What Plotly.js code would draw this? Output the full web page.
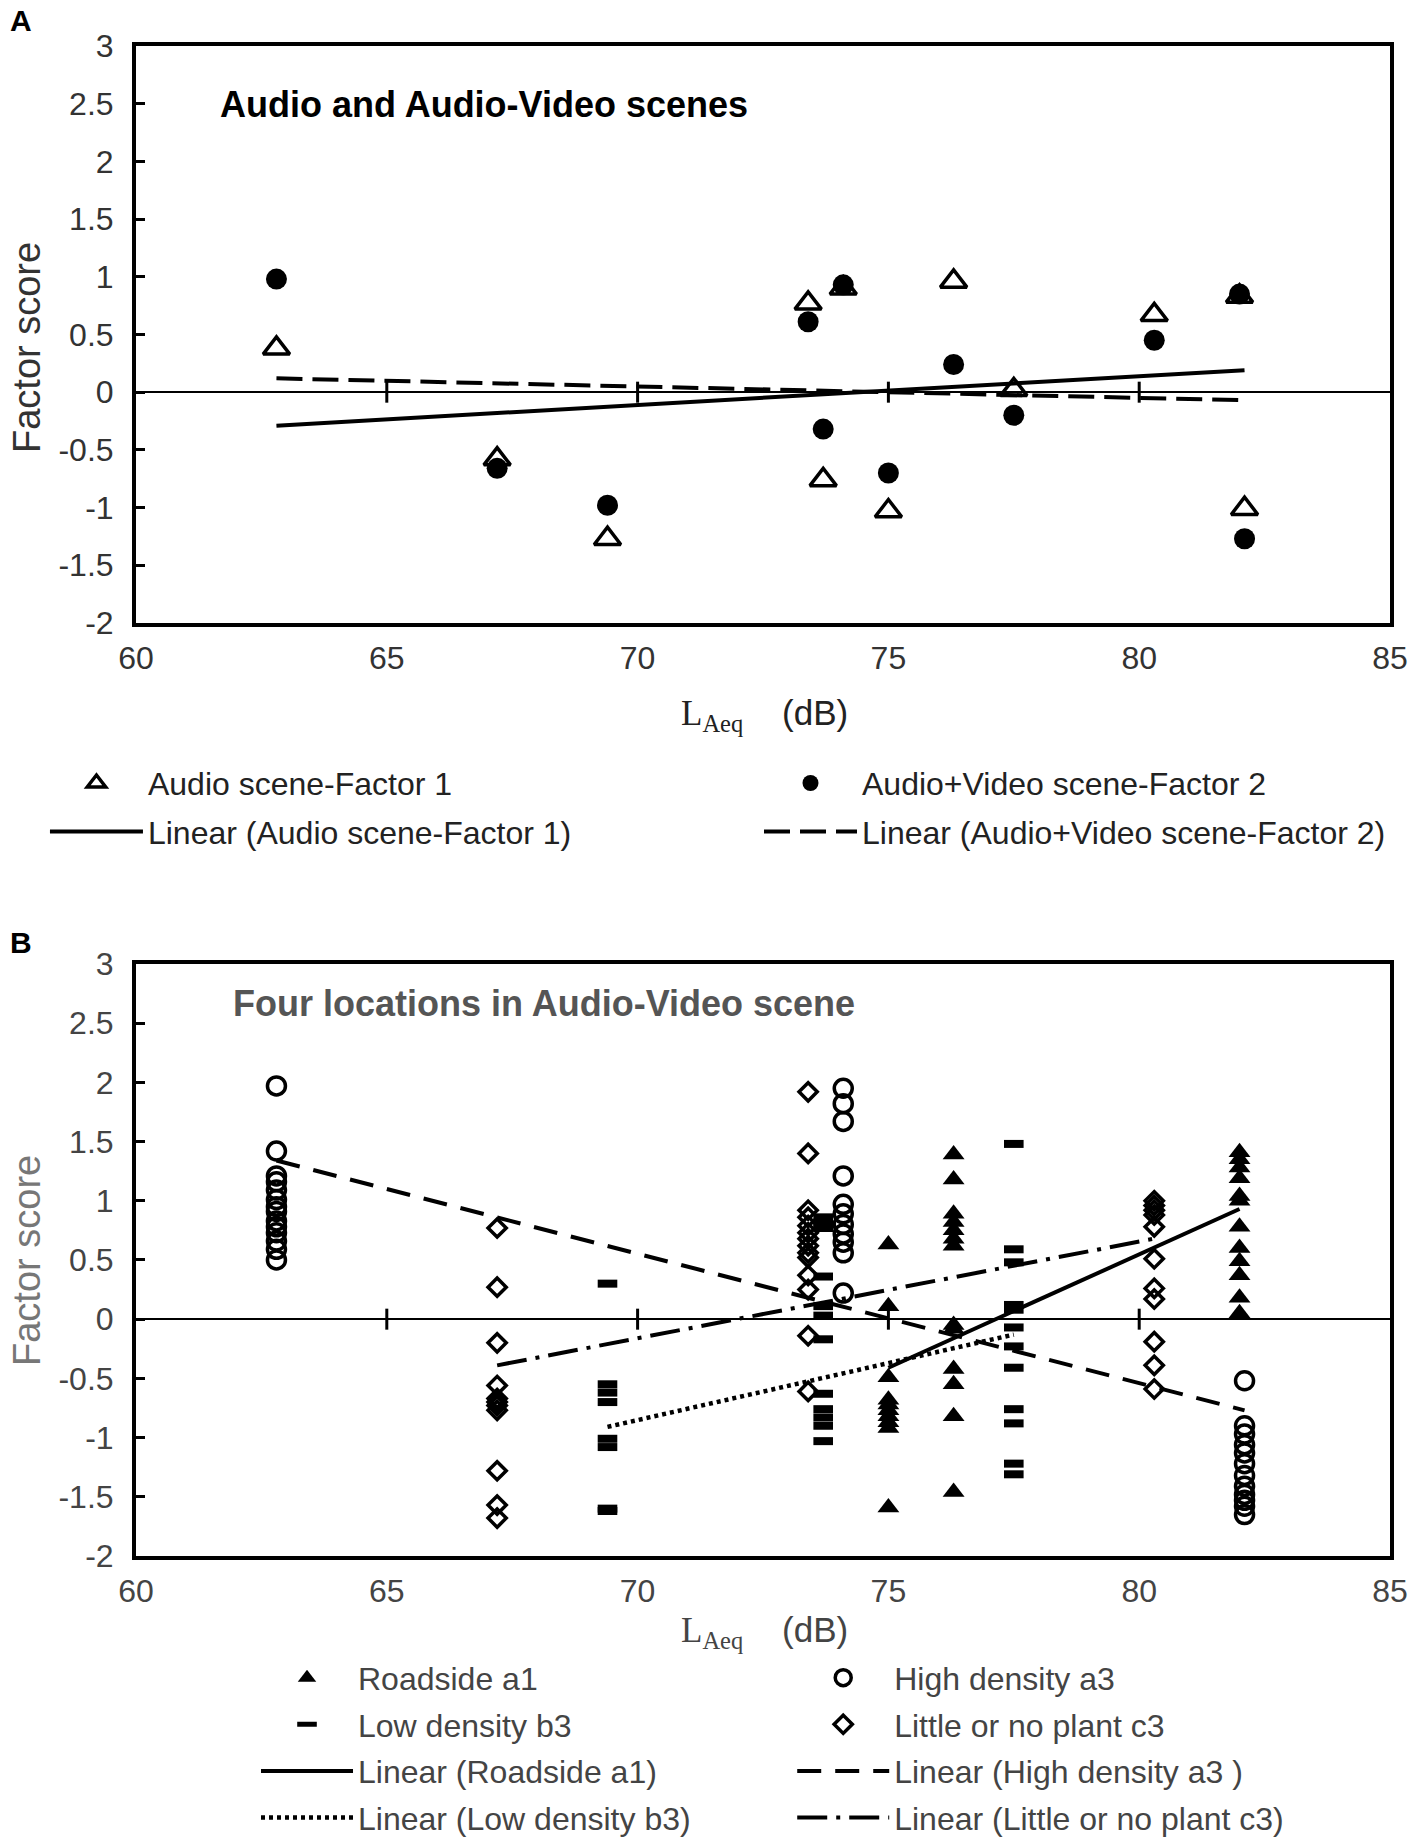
<!DOCTYPE html>
<html>
<head>
<meta charset="utf-8">
<script src="https://cdn.plot.ly/plotly-3.0.1.min.js"></script>
<style>
  html, body { margin: 0; padding: 0; background: #fff; }
  #chart { width: 1418px; height: 1847px; }
</style>
</head>
<body>
<div id="chart"></div>
<script>
// ---------------- Panel A data ----------------
const siteLAeq = [62.8, 67.2, 69.4, 73.4, 73.7, 74.1, 75.0, 76.3, 77.5, 80.3, 82.0, 82.1];
const audioFactor1 = [0.38, -0.58, -1.27, 0.77, -0.76, 0.90, -1.03, 0.96, 0.02, 0.67, 0.83, -1.01];
const audioVideoFactor2 = [0.98, -0.66, -0.98, 0.61, -0.32, 0.93, -0.70, 0.24, -0.20, 0.45, 0.85, -1.27];
// trend lines (start / end)
const trendAudioX = [62.8, 82.1];
const trendAudioY = [-0.29, 0.19];
const trendAVX = [62.8, 82.1];
const trendAVY = [0.12, -0.07];

// ---------------- Panel B data ----------------
const roadsideSites = [75.0, 76.3, 82.0];
const roadside_75_0 = [0.63, 0.11, -0.49, -0.68, -0.72, -0.77, -0.82, -0.87, -0.92, -1.59];
const roadside_76_3 = [1.39, 1.18, 0.89, 0.82, 0.75, 0.68, 0.62, -0.05, -0.08, -0.42, -0.55, -0.82, -1.46];
const roadside_82_0 = [1.41, 1.35, 1.28, 1.19, 1.04, 1.00, 0.78, 0.60, 0.49, 0.37, 0.18, 0.05];

const highSites = [62.8, 74.1, 82.1];
const high_62_8 = [1.97, 1.42, 1.21, 1.16, 1.09, 1.01, 0.95, 0.91, 0.83, 0.78, 0.73, 0.66, 0.59, 0.50];
const high_74_1 = [1.95, 1.82, 1.67, 1.21, 0.97, 0.89, 0.80, 0.72, 0.65, 0.56, 0.22];
const high_82_1 = [-0.52, -0.90, -0.97, -1.06, -1.13, -1.22, -1.32, -1.41, -1.48, -1.53, -1.58, -1.65];

const lowSites = [69.4, 73.7, 77.5];
const low_69_4 = [0.30, -0.55, -0.62, -0.70, -1.01, -1.08, -1.60, -1.62];
const low_73_7 = [0.86, 0.80, 0.77, 0.36, 0.11, 0.03, -0.17, -0.63, -0.76, -0.83, -0.90, -1.03];
const low_77_5 = [1.48, 0.59, 0.48, 0.12, 0.08, -0.07, -0.23, -0.41, -0.76, -0.88, -1.22, -1.31];

const littleSites = [67.2, 73.4, 80.3];
const little_67_2 = [0.77, 0.27, -0.20, -0.56, -0.67, -0.70, -0.73, -0.77, -1.28, -1.57, -1.68];
const little_73_4 = [1.92, 1.40, 0.92, 0.86, 0.79, 0.73, 0.68, 0.62, 0.56, 0.52, 0.37, 0.25, -0.14, -0.61];
const little_80_3 = [1.00, 0.96, 0.92, 0.88, 0.78, 0.51, 0.26, 0.17, -0.19, -0.39, -0.59];

// trend lines (start / end)
const trendRoadX = [75.0, 82.0],   trendRoadY = [-0.41, 0.93];
const trendHighX = [62.8, 82.1],   trendHighY = [1.34, -0.77];
const trendLowX = [69.4, 77.5],    trendLowY = [-0.91, -0.13];
const trendLittleX = [67.2, 80.3], trendLittleY = [-0.39, 0.68];

// ---------------- axes ----------------
const xTickVals = [60, 65, 70, 75, 80, 85];
const xTickText = ['60', '65', '70', '75', '80', '85'];
const yTickVals = [3, 2.5, 2, 1.5, 1, 0.5, 0, -0.5, -1, -1.5, -2];
const yTickText = ['3', '2.5', '2', '1.5', '1', '0.5', '0', '-0.5', '-1', '-1.5', '-2'];
const crossTicks = [65, 70, 75, 80];

function flatten(sites, groups) {
  const x = [], y = [];
  groups.forEach((g, i) => g.forEach(v => { x.push(sites[i]); y.push(v); }));
  return {x, y};
}
const road = flatten(roadsideSites, [roadside_75_0, roadside_76_3, roadside_82_0]);
const high = flatten(highSites, [high_62_8, high_74_1, high_82_1]);
const low = flatten(lowSites, [low_69_4, low_73_7, low_77_5]);
const little = flatten(littleSites, [little_67_2, little_73_4, little_80_3]);

const SANS = 'Liberation Sans, Arial, sans-serif';
const BLACK = '#000';

const traces = [
  // ----- Panel A -----
  {x: siteLAeq, y: audioFactor1, xaxis: 'x', yaxis: 'y', mode: 'markers', type: 'scatter',
   name: 'Audio scene-Factor 1', legend: 'legend', legendgroup: 'a1',
   marker: {symbol: 'triangle-up-open', size: 23, color: BLACK, line: {color: BLACK, width: 3.5}}},
  {x: siteLAeq, y: audioVideoFactor2, xaxis: 'x', yaxis: 'y', mode: 'markers', type: 'scatter',
   name: 'Audio+Video scene-Factor 2', legend: 'legend2', legendgroup: 'a2',
   marker: {symbol: 'circle', size: 21, color: BLACK}},
  {x: trendAudioX, y: trendAudioY, xaxis: 'x', yaxis: 'y', mode: 'lines', type: 'scatter',
   name: 'Linear (Audio scene-Factor 1)', legend: 'legend', legendgroup: 'a3',
   line: {color: BLACK, width: 4}},
  {x: trendAVX, y: trendAVY, xaxis: 'x', yaxis: 'y', mode: 'lines', type: 'scatter',
   name: 'Linear (Audio+Video scene-Factor 2)', legend: 'legend2', legendgroup: 'a4',
   line: {color: BLACK, width: 4, dash: '26px,10px'}},
  {x: crossTicks, y: crossTicks.map(() => 0), xaxis: 'x', yaxis: 'y', mode: 'markers', type: 'scatter',
   showlegend: false, hoverinfo: 'skip',
   marker: {symbol: 'line-ns-open', size: 15, color: BLACK, line: {color: BLACK, width: 3}}},

  // ----- Panel B markers -----
  {x: road.x, y: road.y, xaxis: 'x2', yaxis: 'y2', mode: 'markers', type: 'scatter',
   name: 'Roadside a1', legend: 'legend3', legendgroup: 'b1',
   marker: {symbol: 'triangle-up', size: 19, color: BLACK}},
  {x: high.x, y: high.y, xaxis: 'x2', yaxis: 'y2', mode: 'markers', type: 'scatter',
   name: 'High density a3', legend: 'legend4', legendgroup: 'b2',
   marker: {symbol: 'circle-open', size: 18, color: BLACK, line: {color: BLACK, width: 3.5}}},
  {x: low.x, y: low.y, xaxis: 'x2', yaxis: 'y2', mode: 'markers', type: 'scatter',
   name: 'Low density b3', legend: 'legend3', legendgroup: 'b3',
   marker: {symbol: 'line-ew-open', size: 14, color: BLACK, line: {color: BLACK, width: 8}}},
  {x: little.x, y: little.y, xaxis: 'x2', yaxis: 'y2', mode: 'markers', type: 'scatter',
   name: 'Little or no plant c3', legend: 'legend4', legendgroup: 'b4',
   marker: {symbol: 'diamond-open', size: 14, color: BLACK, line: {color: BLACK, width: 3.5}}},

  // ----- Panel B trend lines -----
  {x: trendRoadX, y: trendRoadY, xaxis: 'x2', yaxis: 'y2', mode: 'lines', type: 'scatter',
   name: 'Linear (Roadside a1)', legend: 'legend3', legendgroup: 'b5',
   line: {color: BLACK, width: 4}},
  {x: trendHighX, y: trendHighY, xaxis: 'x2', yaxis: 'y2', mode: 'lines', type: 'scatter',
   name: 'Linear (High density a3 )', legend: 'legend4', legendgroup: 'b6',
   line: {color: BLACK, width: 4, dash: '24px,14px'}},
  {x: trendLowX, y: trendLowY, xaxis: 'x2', yaxis: 'y2', mode: 'lines', type: 'scatter',
   name: 'Linear (Low density b3)', legend: 'legend3', legendgroup: 'b7',
   line: {color: BLACK, width: 4.5, dash: '4px,4px'}},
  {x: trendLittleX, y: trendLittleY, xaxis: 'x2', yaxis: 'y2', mode: 'lines', type: 'scatter',
   name: 'Linear (Little or no plant c3)', legend: 'legend4', legendgroup: 'b8',
   line: {color: BLACK, width: 4, dash: '30px,9px,4px,9px'}},
  {x: crossTicks, y: crossTicks.map(() => 0), xaxis: 'x2', yaxis: 'y2', mode: 'markers', type: 'scatter',
   showlegend: false, hoverinfo: 'skip',
   marker: {symbol: 'line-ns-open', size: 15, color: BLACK, line: {color: BLACK, width: 3}}}
];

function xAxis(anchor, color) {
  return {
    anchor: anchor, range: [60, 85], tickmode: 'array', tickvals: xTickVals, ticktext: xTickText,
    ticks: '', showgrid: false, zeroline: false, showline: true, mirror: true,
    linecolor: BLACK, linewidth: 4, ticklabelstandoff: 4,
    tickfont: {family: SANS, size: 32, color: color}, fixedrange: true
  };
}
function yAxis(anchor, domain, color) {
  return {
    anchor: anchor, domain: domain, range: [-2, 3], tickmode: 'array', tickvals: yTickVals, ticktext: yTickText,
    ticks: 'inside', ticklen: 9, tickwidth: 3, tickcolor: BLACK,
    showgrid: false, zeroline: true, zerolinecolor: BLACK, zerolinewidth: 2.5,
    showline: true, mirror: true, linecolor: BLACK, linewidth: 4, ticklabelstandoff: 12,
    tickfont: {family: SANS, size: 32, color: color}, fixedrange: true
  };
}
function legendAt(x, y, color, gap, itemw) {
  return {x: x, y: y, xanchor: 'left', yanchor: 'top', orientation: 'v',
          bgcolor: 'rgba(0,0,0,0)', borderwidth: 0, itemwidth: itemw, tracegroupgap: gap,
          font: {family: SANS, size: 32, color: color}, itemclick: false, itemdoubleclick: false};
}

const layout = {
  width: 1418, height: 1847,
  margin: {l: 136, r: 28, t: 46, b: 291, autoexpand: false},
  paper_bgcolor: '#fff', plot_bgcolor: '#fff',
  font: {family: SANS, color: '#333'},
  xaxis: xAxis('y', '#333'),
  yaxis: yAxis('x', [0.6179, 1], '#333'),
  xaxis2: xAxis('y2', '#444'),
  yaxis2: yAxis('x2', [0, 0.3921], '#444'),
  legend: legendAt(-0.0726, 0.530, '#222', 4, 93),
  legend2: legendAt(0.4968, 0.530, '#222', 4, 93),
  legend3: legendAt(0.0957, -0.0625, '#444', 2, 92),
  legend4: legendAt(0.5233, -0.0625, '#444', 2, 92),
  showlegend: true,
  annotations: [
    {text: '<b>A</b>', xref: 'paper', yref: 'paper', x: -0.0917, y: 1.0166, xanchor: 'center', yanchor: 'middle',
     showarrow: false, font: {family: SANS, size: 30, color: BLACK}},
    {text: '<b>B</b>', xref: 'paper', yref: 'paper', x: -0.0917, y: 0.4066, xanchor: 'center', yanchor: 'middle',
     showarrow: false, font: {family: SANS, size: 30, color: BLACK}},
    {text: '<b>Audio and Audio-Video scenes</b>', xref: 'paper', yref: 'paper', x: 0.0654, y: 0.961,
     xanchor: 'left', yanchor: 'middle', showarrow: false, font: {family: SANS, size: 36, color: BLACK}},
    {text: '<b>Four locations in Audio-Video scene</b>', xref: 'paper', yref: 'paper', x: 0.0758, y: 0.3662,
     xanchor: 'left', yanchor: 'middle', showarrow: false, font: {family: SANS, size: 36, color: '#555'}},
    {text: 'Factor score', xref: 'paper', yref: 'paper', x: -0.0869, y: 0.800, textangle: -90,
     xanchor: 'center', yanchor: 'middle', showarrow: false, font: {family: SANS, size: 38, color: '#333'}},
    {text: 'Factor score', xref: 'paper', yref: 'paper', x: -0.0869, y: 0.1954, textangle: -90,
     xanchor: 'center', yanchor: 'middle', showarrow: false, font: {family: SANS, size: 38, color: '#777'}},
    {text: '<span style="font-family:Liberation Serif">L<sub>Aeq</sub></span>&nbsp;&nbsp;&nbsp;&nbsp;(dB)',
     xref: 'paper', yref: 'paper', x: 0.5008, y: 0.557, xanchor: 'center', yanchor: 'middle',
     showarrow: false, font: {family: SANS, size: 35, color: '#222'}},
    {text: '<span style="font-family:Liberation Serif">L<sub>Aeq</sub></span>&nbsp;&nbsp;&nbsp;&nbsp;(dB)',
     xref: 'paper', yref: 'paper', x: 0.5008, y: -0.0503, xanchor: 'center', yanchor: 'middle',
     showarrow: false, font: {family: SANS, size: 35, color: '#444'}}
  ]
};

Plotly.newPlot('chart', traces, layout, {staticPlot: true, displayModeBar: false});
</script>
</body>
</html>
